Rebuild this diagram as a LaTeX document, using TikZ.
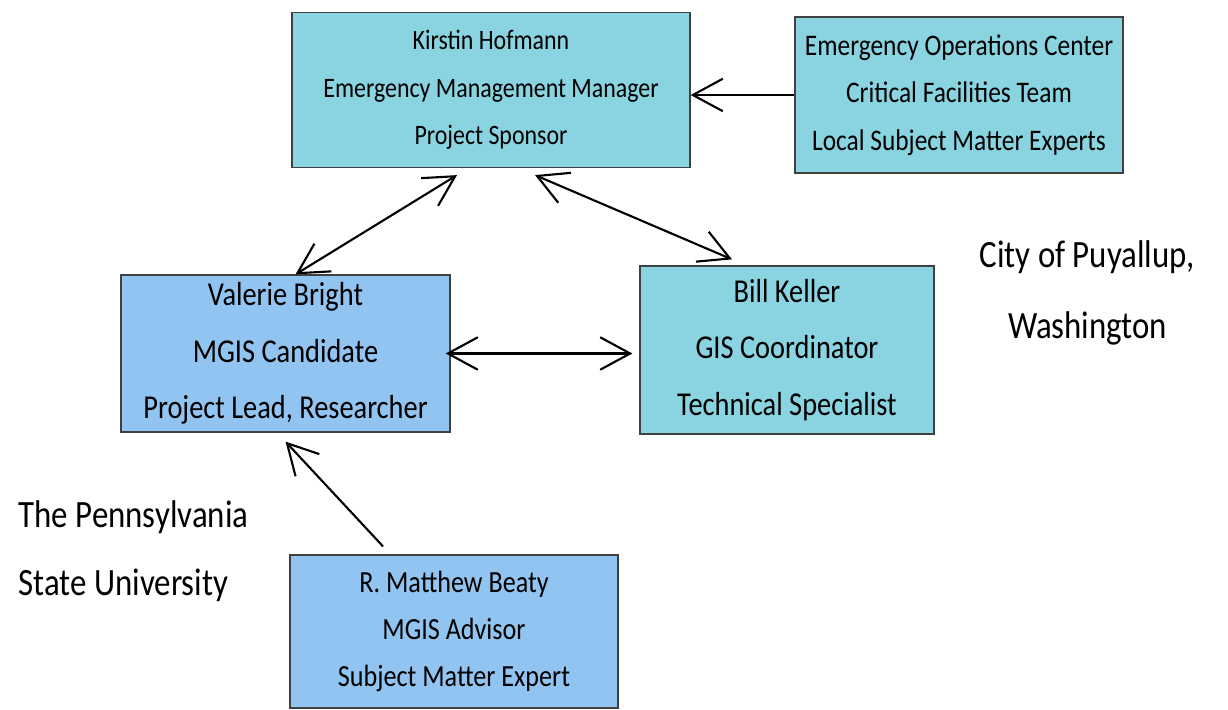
\documentclass[tikz,border=0pt]{standalone}
\usepackage{fontspec}
\setmainfont{Carlito}[FakeStretch=0.85]
\usetikzlibrary{positioning,arrows.meta}
\definecolor{teal box}{HTML}{89D4E0}
\definecolor{blue box}{HTML}{91C4F0}
\tikzset{>={Straight Barb[length=6mm,width=6.5mm]},
  person/.style={draw=black!75,line width=.7pt,align=center,inner sep=0pt,
    font=\fontsize{16}{27}\selectfont},
  city/.style={person,fill=teal box},
  psu/.style={person,fill=blue box},
  big/.style={font=\fontsize{19}{32}\selectfont},
  link/.style={line width=1.2pt,black}}

\begin{document}
\begin{tikzpicture}
\useasboundingbox (0,0) rectangle (24.56,14.2);
\node[city,minimum width=7.96cm,minimum height=3.1cm] (kirstin) at (9.82,12.4)
  {Kirstin Hofmann\\Emergency Management Manager\\Project Sponsor};
\node[city,font=\fontsize{17}{27}\selectfont,minimum width=6.56cm,minimum height=3.12cm] (eoc) at (19.18,12.3)
  {Emergency Operations Center\\Critical Facilities Team\\Local Subject Matter Experts};
\node[psu,big,minimum width=6.58cm,minimum height=3.14cm] (valerie) at (5.71,7.13)
  {Valerie Bright\\MGIS Candidate\\Project Lead, Researcher};
\node[city,big,minimum width=5.88cm,minimum height=3.36cm] (bill) at (15.74,7.2)
  {Bill Keller\\GIS Coordinator\\Technical Specialist};
\node[psu,font=\fontsize{17.5}{27}\selectfont,minimum width=6.56cm,minimum height=3.06cm] (beaty) at (9.08,1.57)
  {R. Matthew Beaty\\MGIS Advisor\\Subject Matter Expert};
% organisations
\node[align=center,font=\fontsize{22}{40}\selectfont] (puyallup) at (21.75,8.34)
  {City of Puyallup,\\Washington};
\node[align=left,anchor=west,font=\fontsize{22}{39}\selectfont] (pennstate) at (0.25,3.18)
  {The Pennsylvania\\State University};
% links
\draw[link,->] (eoc.west) -- (kirstin.east |- eoc.west);
\draw[link,<->] ([xshift=-0.68cm,yshift=-0.14cm]kirstin.south) -- ([xshift=0.2cm]valerie.north);
\draw[link,<->] ([xshift=0.88cm,yshift=-0.14cm]kirstin.south) -- ([xshift=-1.1cm,yshift=0.12cm]bill.north);
\draw[link,<->] ([xshift=-0.1cm]valerie.east) -- ([xshift=-0.14cm]bill.west |- valerie.east);
\draw[link,->] ([xshift=-1.42cm,yshift=0.16cm]beaty.north) -- ([yshift=-0.18cm]valerie.south);
\end{tikzpicture}
\end{document}
